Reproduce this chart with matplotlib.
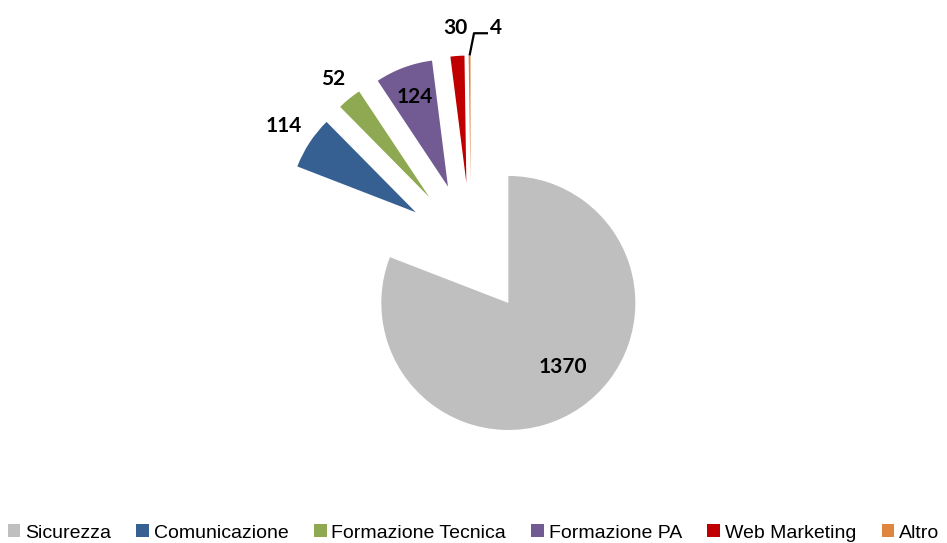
import numpy as np
import matplotlib
matplotlib.use('Agg')
import matplotlib.pyplot as plt

categories = ['Sicurezza', 'Comunicazione', 'Formazione Tecnica', 'Formazione PA',
              'Web Marketing', 'Altro']
values = [1370, 114, 52, 124, 30, 4]
colors = ['#BFBFBF', '#376092', '#8EA951', '#725A93', '#C00000', '#E0853E']

# where each value label sits: fraction of radius from the wedge tip, angle nudge
label_dist = [0.66, 1.24, 1.2, 0.75, 1.22, None]
label_turn = [6, 0, 0, 0, 0, 0]

fig = plt.figure(figsize=(9.47, 5.43), dpi=100)
ax = fig.add_axes([0, 0, 1, 1])

wedges, _ = ax.pie(values, colors=colors, startangle=90, counterclock=False,
                   explode=[0.52] * len(values), radius=1.0,
                   wedgeprops=dict(linewidth=0))

# axes limits chosen so the radius is ~127 px and the pie sits like the original
r_px = 127.0
cx, cy = 471.0, 248.5
ax.set_xlim(-cx / r_px, (947 - cx) / r_px)
ax.set_ylim(-(543 - cy) / r_px, cy / r_px)
ax.set_aspect('auto')
ax.axis('off')

lab_font = dict(family=['Lato', 'DejaVu Sans'], fontsize=15, fontweight='bold',
                color='black', ha='center', va='center')

for w, v, d, t in zip(wedges, values, label_dist, label_turn):
    mid = np.deg2rad((w.theta1 + w.theta2) / 2 + t)
    x0, y0 = w.center
    if d is not None:
        ax.text(x0 + d * np.cos(mid), y0 + d * np.sin(mid), str(v), **lab_font)
    else:
        # tiny slice: leader line from the outer arc up to the label
        ox, oy = x0 + np.cos(mid), y0 + np.sin(mid)
        kx, ky = ox + 0.035, oy + 0.175
        ex = kx + 0.11
        ax.plot([ox, kx, ex], [oy, ky, ky], color='black', lw=1.6,
                solid_capstyle='butt')
        ax.text(ex + 0.06, ky + 0.04, str(v), **lab_font)

leg = fig.legend(wedges, categories, loc='lower center', ncol=6,
                 bbox_to_anchor=(0.5, -0.012), frameon=False,
                 prop=dict(family='Liberation Sans', size=14),
                 handlelength=0.65, handleheight=0.65, handletextpad=0.25,
                 columnspacing=1.3, borderaxespad=0)

fig.savefig('out.png', dpi=100)
